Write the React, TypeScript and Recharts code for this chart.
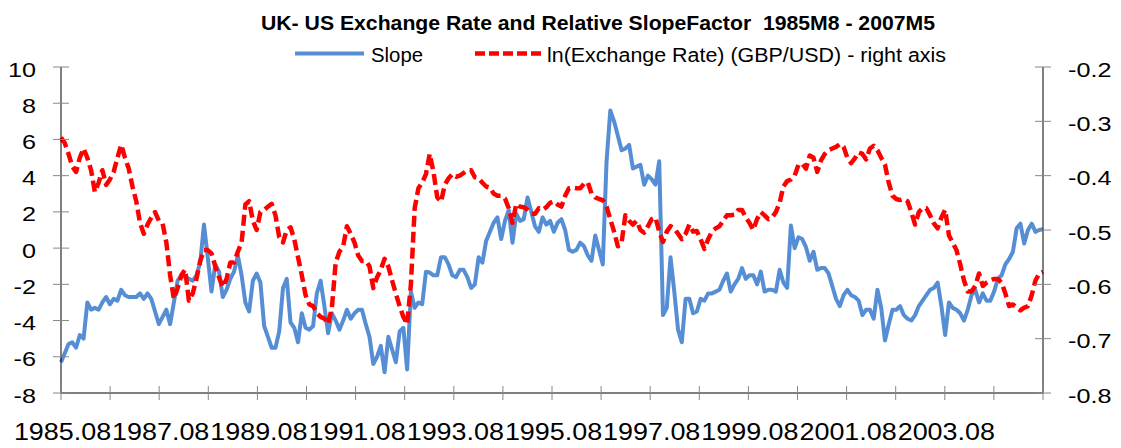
import React from 'react';
import { LineChart, Line, XAxis, YAxis } from 'recharts';

// monthly values, 1985M8 .. 2007M5
const slope = [
  -6.3, -5.8, -5.3, -5.2, -5.5, -4.8, -5.0, -3.0, -3.4, -3.3,
  -3.4, -3.0, -2.7, -3.1, -2.8, -2.9, -2.3, -2.6, -2.7, -2.7,
  -2.7, -2.5, -2.8, -2.5, -2.8, -3.5, -4.2, -3.8, -3.4, -4.2,
  -3.0, -1.8, -1.5, -1.6, -1.7, -1.8, -1.5, -0.8, 1.3, -0.5,
  -2.4, -0.9, -1.3, -2.7, -2.3, -1.7, -1.3, -0.4, -1.5, -3.0,
  -3.5, -1.8, -1.4, -1.9, -4.3, -4.9, -5.5, -5.5, -4.6, -2.2,
  -1.7, -4.1, -4.4, -5.2, -3.6, -4.4, -4.5, -4.3, -2.5, -1.8,
  -3.2, -4.7, -3.6, -4.0, -4.5, -4.0, -3.4, -3.9, -3.6, -3.4,
  -3.4, -4.2, -4.9, -6.4, -6.0, -5.4, -6.85, -4.9, -5.6, -6.3,
  -4.6, -4.4, -6.7, -2.4, -3.3, -3.0, -3.1, -1.3, -1.35, -1.5,
  -1.5, -0.5, -0.5, -0.9, -1.5, -1.6, -1.2, -1.2, -1.6, -2.2,
  -2.0, -0.5, -0.8, 0.4, 0.9, 1.4, 1.7, 0.5, 1.5, 2.1,
  0.3, 1.9, 1.5, 1.6, 2.8, 2.0, 1.2, 0.9, 1.7, 1.3,
  1.5, 0.9, 1.4, 1.6, 1.0, -0.1, -0.2, -0.1, 0.3, 0.1,
  -0.4, -0.7, 0.7, -0.1, -0.9, 4.8, 7.6, 7.0, 6.2, 5.4,
  5.5, 5.7, 4.4, 4.5, 4.6, 3.5, 4.0, 3.8, 3.5, 4.8,
  -3.7, -3.3, -0.5, -2.4, -4.5, -5.2, -2.8, -2.8, -3.6, -3.5,
  -2.8, -2.9, -2.5, -2.5, -2.4, -2.3, -1.8, -1.4, -2.4, -2.0,
  -1.7, -1.1, -1.7, -1.5, -1.5, -2.0, -1.3, -2.4, -2.3, -2.3,
  -2.4, -1.2, -1.9, -2.2, 1.25, 0.0, 0.6, 0.5, 0.05, -0.7,
  -0.2, -1.2, -1.1, -1.1, -1.4, -2.1, -2.8, -3.2, -2.6, -2.3,
  -2.6, -2.7, -2.9, -3.7, -3.4, -3.4, -3.9, -2.3, -3.3, -5.1,
  -4.2, -3.4, -3.4, -3.2, -3.7, -3.9, -4.0, -3.7, -3.2, -2.9,
  -2.6, -2.3, -2.2, -1.9, -3.2, -4.8, -3.0, -3.3, -3.4, -3.6,
  -4.0, -3.4, -2.6, -2.3, -3.0, -2.5, -2.9, -2.9, -2.4, -1.7,
  -1.5, -0.9, -0.6, -0.2, 1.1, 1.35, 0.25, 1.0, 1.35, 0.9,
  1.0, 1.05,
];

const lnRate = [
  -0.330, -0.340, -0.360, -0.383, -0.393, -0.367, -0.350, -0.367, -0.390, -0.430,
  -0.413, -0.390, -0.417, -0.407, -0.393, -0.367, -0.343, -0.367, -0.387, -0.420,
  -0.447, -0.487, -0.507, -0.490, -0.477, -0.467, -0.483, -0.488, -0.523, -0.583,
  -0.627, -0.607, -0.583, -0.573, -0.630, -0.617, -0.590, -0.557, -0.537, -0.537,
  -0.543, -0.567, -0.587, -0.605, -0.590, -0.560, -0.560, -0.540, -0.523, -0.453,
  -0.447, -0.483, -0.500, -0.467, -0.463, -0.457, -0.452, -0.473, -0.513, -0.523,
  -0.500, -0.495, -0.517, -0.550, -0.583, -0.620, -0.637, -0.640, -0.653, -0.660,
  -0.663, -0.673, -0.643, -0.560, -0.540, -0.530, -0.493, -0.507, -0.523, -0.547,
  -0.557, -0.557, -0.567, -0.607, -0.587, -0.573, -0.553, -0.567, -0.593, -0.617,
  -0.640, -0.660, -0.673, -0.600, -0.460, -0.423, -0.413, -0.397, -0.360, -0.393,
  -0.440, -0.448, -0.417, -0.405, -0.397, -0.402, -0.400, -0.395, -0.390, -0.390,
  -0.403, -0.405, -0.413, -0.420, -0.422, -0.433, -0.437, -0.437, -0.442, -0.460,
  -0.487, -0.452, -0.457, -0.458, -0.463, -0.470, -0.470, -0.460, -0.463, -0.458,
  -0.450, -0.447, -0.453, -0.457, -0.437, -0.423, -0.422, -0.423, -0.423, -0.415,
  -0.412, -0.433, -0.440, -0.443, -0.445, -0.457, -0.480, -0.503, -0.530, -0.523,
  -0.473, -0.483, -0.490, -0.483, -0.500, -0.505, -0.493, -0.480, -0.477, -0.503,
  -0.522, -0.503, -0.493, -0.497, -0.507, -0.517, -0.507, -0.490, -0.503, -0.502,
  -0.517, -0.535, -0.517, -0.503, -0.497, -0.493, -0.483, -0.473, -0.473, -0.472,
  -0.463, -0.463, -0.477, -0.487, -0.500, -0.480, -0.467, -0.473, -0.480, -0.477,
  -0.467, -0.450, -0.420, -0.410, -0.407, -0.400, -0.380, -0.378, -0.387, -0.363,
  -0.367, -0.393, -0.372, -0.360, -0.353, -0.350, -0.347, -0.342, -0.347, -0.367,
  -0.377, -0.368, -0.357, -0.360, -0.370, -0.350, -0.345, -0.353, -0.367, -0.380,
  -0.413, -0.437, -0.443, -0.445, -0.443, -0.447, -0.467, -0.490, -0.467, -0.460,
  -0.460, -0.473, -0.488, -0.497, -0.477, -0.463, -0.510, -0.523, -0.537, -0.563,
  -0.593, -0.613, -0.613, -0.603, -0.580, -0.603, -0.597, -0.593, -0.590, -0.590,
  -0.597, -0.617, -0.640, -0.637, -0.643, -0.648, -0.643, -0.640, -0.620, -0.593,
  -0.580, -0.577,
];

const tickLabels = [
  '1985.08', '1987.08', '1989.08', '1991.08', '1993.08',
  '1995.08', '1997.08', '1999.08', '2001.08', '2003.08',
];
const leftTicks = [-8, -6, -4, -2, 0, 2, 4, 6, 8, 10];
const rightTicks = [-0.8, -0.7, -0.6, -0.5, -0.4, -0.3, -0.2];

const series = [
  { key: 'slope', name: 'Slope', color: '#558ED5', dash: undefined },
  { key: 'lnRate', name: 'ln(Exchange Rate) (GBP/USD) - right axis', color: '#FF0000', dash: '11 5' },
];

const data = slope.map((s, i) => ({ i, slope: s, lnRate: lnRate[i] }));
const last = data.length - 1;
// 20 equal tick intervals along the axis, a label on every second one
const xTicks = Array.from({ length: 21 }, (_, k) => (k * last) / 20);

const FONT = "'Liberation Sans', Arial, sans-serif";
const TICK_GRAY = '#888888';

function XTick(props: any) {
  const { x, y, index } = props;
  const label = index % 2 === 0 ? tickLabels[index / 2] : undefined;
  return (
    <g>
      <line x1={x} x2={x} y1={y - 7} y2={y + 7} stroke={TICK_GRAY} />
      {label && (
        <text
          transform={`translate(${x + 1.5},${y + 46.5}) scale(1.17,1)`}
          textAnchor="middle"
          fontSize={23}
          fontFamily={FONT}
          fill="#000"
        >
          {label}
        </text>
      )}
    </g>
  );
}

function LeftTick(props: any) {
  const { x, y, payload } = props;
  return (
    <g>
      <line x1={x - 8} x2={x + 8} y1={y} y2={y} stroke={TICK_GRAY} />
      <text
        transform={`translate(${x - 25},${y + 9.5}) scale(1.2,1)`}
        textAnchor="end"
        fontSize={21}
        fontFamily={FONT}
        fill="#000"
      >
        {payload.value}
      </text>
    </g>
  );
}

function RightTick(props: any) {
  const { x, y, payload } = props;
  return (
    <g>
      <line x1={x - 8} x2={x + 8} y1={y} y2={y} stroke={TICK_GRAY} />
      <text
        transform={`translate(${x + 25},${y + 9.5}) scale(1.2,1)`}
        textAnchor="start"
        fontSize={21}
        fontFamily={FONT}
        fill="#000"
      >
        {Number(payload.value).toFixed(1)}
      </text>
    </g>
  );
}

export default function App() {
  return (
    <div style={{ position: 'absolute', left: 0, top: 0, width: 1121, height: 448, background: '#fff' }}>
      <LineChart width={1121} height={448} data={data} margin={{ top: 67, right: 0, bottom: 0, left: 0 }}>
        <XAxis
          dataKey="i"
          type="number"
          domain={[0, last]}
          ticks={xTicks}
          interval={0}
          height={55}
          tickSize={0}
          tickMargin={0}
          tickLine={false}
          axisLine={{ stroke: '#000' }}
          tick={<XTick />}
        />
        <YAxis
          yAxisId="left"
          domain={[-8, 10]}
          ticks={leftTicks}
          interval={0}
          width={61}
          tickSize={0}
          tickMargin={0}
          tickLine={false}
          axisLine={{ stroke: '#000' }}
          tick={<LeftTick />}
        />
        <YAxis
          yAxisId="right"
          orientation="right"
          domain={[-0.8, -0.2]}
          ticks={rightTicks}
          interval={0}
          width={78}
          tickSize={0}
          tickMargin={0}
          tickLine={false}
          axisLine={{ stroke: '#000' }}
          tick={<RightTick />}
        />
        <Line
          yAxisId="left"
          type="linear"
          dataKey="slope"
          name={series[0].name}
          stroke={series[0].color}
          strokeWidth={4}
          strokeLinejoin="round"
          dot={false}
          isAnimationActive={false}
        />
        <Line
          yAxisId="right"
          type="linear"
          dataKey="lnRate"
          name={series[1].name}
          stroke={series[1].color}
          strokeWidth={4.5}
          strokeDasharray={series[1].dash}
          strokeLinejoin="round"
          dot={false}
          isAnimationActive={false}
        />
      </LineChart>
      <svg
        width={1121}
        height={70}
        style={{ position: 'absolute', left: 0, top: 0, pointerEvents: 'none' }}
      >
        <text
          x={598}
          y={30}
          textAnchor="middle"
          fontSize={21}
          fontWeight="bold"
          fontFamily={FONT}
          textLength={674}
          lengthAdjust="spacingAndGlyphs"
          style={{ whiteSpace: 'pre' }}
        >
          UK- US Exchange Rate and Relative SlopeFactor  1985M8 - 2007M5
        </text>
        <line x1={295} x2={364} y1={53.5} y2={53.5} stroke={series[0].color} strokeWidth={4} />
        <text x={371} y={61.5} fontSize={20} fontFamily={FONT} textLength={52} lengthAdjust="spacingAndGlyphs">
          {series[0].name}
        </text>
        <line x1={475} x2={543} y1={53.5} y2={53.5} stroke={series[1].color} strokeWidth={4.5} strokeDasharray="10 4" />
        <text x={547} y={61.5} fontSize={20} fontFamily={FONT} textLength={399} lengthAdjust="spacingAndGlyphs">
          {series[1].name}
        </text>
      </svg>
    </div>
  );
}
